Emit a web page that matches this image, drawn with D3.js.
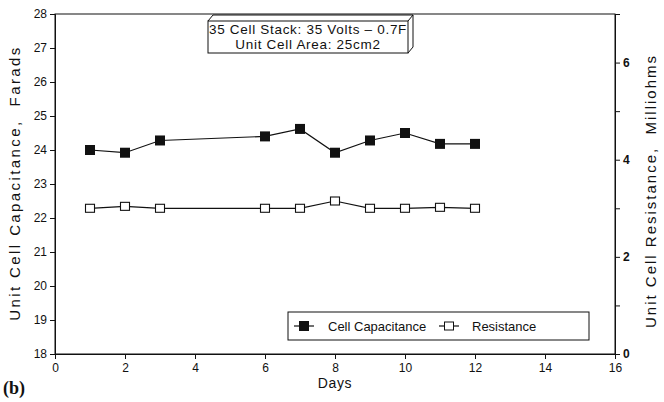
<!DOCTYPE html>
<html>
<head>
<meta charset="utf-8">
<script src="https://cdn.jsdelivr.net/npm/d3@7"></script>
<style>
  body { margin: 0; background: #fff; }
  svg text { font-family: "Liberation Sans", Arial, sans-serif; fill: #111; }
</style>
</head>
<body>
<div id="chart"></div>
<script>
// Данные
const days = [1, 2, 3, 6, 7, 8, 9, 10, 11, 12];
const capacitance = [24.0, 23.92, 24.28, 24.4, 24.62, 23.92, 24.28, 24.5, 24.18, 24.18];
const resistance = [3.0, 3.04, 3.0, 3.0, 3.0, 3.15, 3.0, 3.0, 3.02, 3.0];
const leftTicks = [18, 19, 20, 21, 22, 23, 24, 25, 26, 27, 28];
const rightTicks = [0, 2, 4, 6];
const dayTicks = [0, 2, 4, 6, 8, 10, 12, 14, 16];
const titleLines = ["35 Cell Stack: 35 Volts \u2013 0.7F", "Unit Cell Area: 25cm2"];
const legendItems = ["Cell Capacitance", "Resistance"];

const width = 664, height = 402;
const margin = { top: 14, right: 49, bottom: 48, left: 55 };
const plotW = width - margin.left - margin.right;
const plotH = height - margin.top - margin.bottom;

const svg = d3.select("#chart").append("svg")
    .attr("width", width)
    .attr("height", height);

const g = svg.append("g")
    .attr("transform", `translate(${margin.left},${margin.top})`);

const x = d3.scaleLinear().domain([0, 16]).range([0, plotW]);
const yL = d3.scaleLinear().domain([18, 28]).range([plotH, 0]);
const yR = d3.scaleLinear().domain([0, 7]).range([plotH, 0]);

// рамка
g.append("rect")
    .attr("width", plotW)
    .attr("height", plotH)
    .attr("fill", "none")
    .attr("stroke", "#111")
    .attr("stroke-width", 1);

// оси
const axisL = g.append("g")
    .call(d3.axisLeft(yL).tickValues(leftTicks).tickSize(5).tickFormat(d3.format("d")));
const axisR = g.append("g")
    .attr("transform", `translate(${plotW},0)`)
    .call(d3.axisRight(yR).tickValues(d3.range(0, 8)).tickSize(5)
        .tickFormat(d => rightTicks.includes(d) ? d : ""));
const axisB = g.append("g")
    .attr("transform", `translate(0,${plotH})`)
    .call(d3.axisBottom(x).tickValues(dayTicks).tickSize(5).tickFormat(d3.format("d")));

[axisL, axisR, axisB].forEach(a => {
    a.select(".domain").attr("stroke", "#111");
    a.selectAll(".tick line").attr("stroke", "#111");
    a.selectAll(".tick text")
        .attr("font-family", "Liberation Sans, Arial, sans-serif")
        .attr("font-size", 12)
        .attr("fill", "#111");
});
axisL.selectAll(".tick text").attr("x", -8);
axisR.selectAll(".tick text").attr("x", 8).attr("font-weight", "bold");
axisB.selectAll(".tick text").attr("y", 9);

// линии
const capLine = d3.line().x((d, i) => x(days[i])).y(d => yL(d));
const resLine = d3.line().x((d, i) => x(days[i])).y(d => yR(d));

g.append("path")
    .datum(capacitance)
    .attr("d", capLine)
    .attr("fill", "none")
    .attr("stroke", "#111")
    .attr("stroke-width", 1.2);

g.append("path")
    .datum(resistance)
    .attr("d", resLine)
    .attr("fill", "none")
    .attr("stroke", "#111")
    .attr("stroke-width", 1.2);

g.selectAll(".cap")
    .data(capacitance)
    .enter().append("rect")
    .attr("class", "cap")
    .attr("x", (d, i) => x(days[i]) - 5)
    .attr("y", d => yL(d) - 5)
    .attr("width", 10)
    .attr("height", 10)
    .attr("fill", "#111");

g.selectAll(".res")
    .data(resistance)
    .enter().append("rect")
    .attr("class", "res")
    .attr("x", (d, i) => x(days[i]) - 4.5)
    .attr("y", d => yR(d) - 4)
    .attr("width", 9)
    .attr("height", 8)
    .attr("fill", "#fff")
    .attr("stroke", "#111")
    .attr("stroke-width", 1.1);

// блок заголовка (псевдо-3D)
const bx0 = 208, by0 = 21, bx1 = 408, by1 = 53, dep = 5;
const box = svg.append("g");
box.append("rect")
    .attr("x", bx0).attr("y", by0)
    .attr("width", bx1 - bx0).attr("height", by1 - by0)
    .attr("fill", "#fff").attr("stroke", "#111");
box.append("path")
    .attr("d", `M${bx0},${by0}L${bx0 + dep},${by0 - 6}L${bx1 + dep},${by0 - 6}L${bx1 + dep},${by1 - 6}L${bx1},${by1}M${bx1},${by0}L${bx1 + dep},${by0 - 6}`)
    .attr("fill", "none").attr("stroke", "#111");
box.selectAll("text")
    .data(titleLines)
    .enter().append("text")
    .attr("x", (bx0 + bx1) / 2)
    .attr("y", (d, i) => 34 + i * 15)
    .attr("text-anchor", "middle")
    .attr("font-size", 13.5)
    .attr("letter-spacing", 0.7)
    .text(d => d);

// легенда
const lg = svg.append("g");
lg.append("rect")
    .attr("x", 288).attr("y", 312)
    .attr("width", 301).attr("height", 28)
    .attr("fill", "#fff").attr("stroke", "#111");
const legendX = [294, 439];
const legendTextX = [328, 472];
legendItems.forEach((name, i) => {
    lg.append("line")
        .attr("x1", legendX[i]).attr("x2", legendX[i] + 20)
        .attr("y1", 326).attr("y2", 326)
        .attr("stroke", "#111").attr("stroke-width", 1.2);
    if (i === 0) {
        lg.append("rect")
            .attr("x", legendX[i] + 5).attr("y", 321)
            .attr("width", 10).attr("height", 10)
            .attr("fill", "#111");
    } else {
        lg.append("rect")
            .attr("x", legendX[i] + 5.5).attr("y", 322)
            .attr("width", 9).attr("height", 8)
            .attr("fill", "#fff").attr("stroke", "#111");
    }
    lg.append("text")
        .attr("x", legendTextX[i])
        .attr("y", 331)
        .attr("font-size", 13)
        .text(name);
});

// подписи осей
svg.append("text")
    .attr("transform", `translate(20,183) rotate(-90)`)
    .attr("text-anchor", "middle")
    .attr("font-size", 15)
    .attr("letter-spacing", 2.4)
    .style("white-space", "pre")
    .text("Unit Cell Capacitance,  Farads");

svg.append("text")
    .attr("transform", `translate(656,191) rotate(-90)`)
    .attr("text-anchor", "middle")
    .attr("font-size", 15)
    .attr("letter-spacing", 2.0)
    .style("white-space", "pre")
    .text("Unit Cell Resistance,  Milliohms");

svg.append("text")
    .attr("x", x(8) + margin.left)
    .attr("y", 388)
    .attr("text-anchor", "middle")
    .attr("font-size", 14)
    .attr("letter-spacing", 0.6)
    .text("Days");

svg.append("text")
    .attr("x", 3)
    .attr("y", 394)
    .style("font-family", "Liberation Serif, serif")
    .attr("font-weight", "bold")
    .attr("font-size", 18)
    .text("(b)");
</script>
</body>
</html>
